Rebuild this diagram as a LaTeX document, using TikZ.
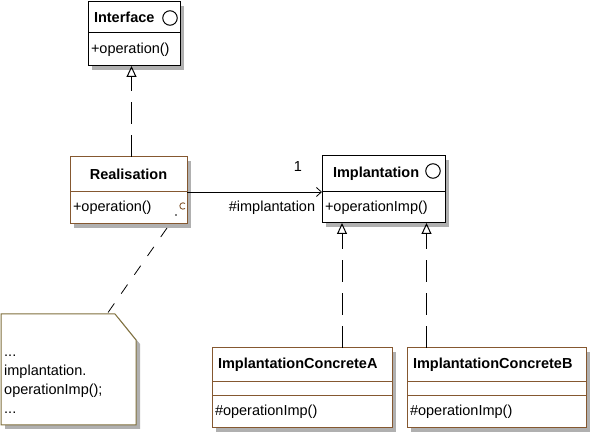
\documentclass[tikz,border=0pt]{standalone}
\usepackage{fontspec}
\setmainfont{Liberation Sans}
\usetikzlibrary{positioning,shadows,arrows.meta}

\definecolor{marrom}{RGB}{133,88,48}
\definecolor{oliva}{RGB}{128,112,60}
\definecolor{sombra}{RGB}{176,176,176}

\tikzset{
  compart/.style={draw, fill=white, line width=1pt, outer sep=0pt, inner sep=3pt,
    anchor=north west, font=\fontsize{14.5}{16}\selectfont},
  titulo/.style={compart, font=\fontsize{14.5}{16}\selectfont\bfseries},
  metodo/.style={compart, align=left},
  comsombra/.style={general shadow={fill=sombra, shadow xshift=4pt, shadow yshift=-4pt}},
  realiza/.style={draw, line width=1pt, dash pattern=on 22pt off 11pt,
    -{Triangle[open, width=10pt, length=11pt, line width=1pt]}},
  icone/.style={draw, circle, line width=1pt, minimum size=14.5pt, inner sep=0pt},
}

\begin{document}
\begin{tikzpicture}[x=1pt, y=-1pt, font=\fontsize{14.5}{16}\selectfont]
  \useasboundingbox (0,0) rectangle (590,435);

  % Interface
  \node[titulo, comsombra, minimum height=31pt, text width=80pt, inner xsep=6pt, align=left] (interface) at (88,2) {Interface};
  \node[metodo, comsombra, minimum height=33pt, text width=86pt, below=0pt of interface] (interfaceop) {+operation()};
  \node[icone] (interfaceicone) at (170,18) {};

  % Realisation
  \node[titulo, comsombra, draw=marrom, minimum height=35pt, text width=111pt, align=center] (realisation) at (70,157) {Realisation};
  \node[metodo, comsombra, draw=marrom, minimum height=32pt, text width=111pt, below=0pt of realisation] (realisationop) {+operation()};
  \draw[marrom, line width=0.9pt] (183,206) ++(50:3.2) arc (50:310:3.2);
  \fill (176,215) circle (0.8);

  % Implantation
  \node[titulo, comsombra, minimum height=36pt, text width=101pt, inner xsep=11pt, align=left] (implantation) at (322,156) {Implantation};
  \node[metodo, comsombra, minimum height=31pt, text width=117pt, below=0pt of implantation] (implantationop) {+operationImp()};
  \node[icone] (implantationicone) at (433,171) {};

  % Classes concretes
  \node[titulo, comsombra, draw=marrom, minimum height=34pt, text width=168pt, inner xsep=6pt, align=left] (concreteA) at (212,348) {ImplantationConcreteA};
  \node[metodo, comsombra, draw=marrom, minimum height=14pt, inner ysep=0pt, text width=174pt, below=0pt of concreteA] (concreteAattr) {};
  \node[metodo, comsombra, draw=marrom, minimum height=32pt, text width=174pt, below=0pt of concreteAattr] (concreteAop) {\#operationImp()};

  \node[titulo, comsombra, draw=marrom, minimum height=34pt, text width=167pt, inner xsep=6pt, align=left] (concreteB) at (407,348) {ImplantationConcreteB};
  \node[metodo, comsombra, draw=marrom, minimum height=14pt, inner ysep=0pt, text width=173pt, below=0pt of concreteB] (concreteBattr) {};
  \node[metodo, comsombra, draw=marrom, minimum height=32pt, text width=173pt, below=0pt of concreteBattr] (concreteBop) {\#operationImp()};

  % Realisations
  \draw[realiza] ([xshift=3pt]realisation.north) -- ([xshift=3pt]realisation.north |- interfaceop.south);
  \draw[realiza] ([xshift=40pt]concreteA.north) -- ([xshift=40pt]concreteA.north |- implantationop.south);
  \draw[realiza] ([xshift=-70pt]concreteB.north) -- ([xshift=-70pt]concreteB.north |- implantationop.south);

  % Association
  \draw[line width=0.8pt, -{Straight Barb[length=5pt, width=9pt, line width=0.8pt]}] (realisationop.north east) -- (implantationop.north west);
  \node (multiplicite) at (298,167) {1};
  \node (role) at (272,208) {\#implantation};

  % Note
  \draw[draw=oliva, fill=white, line width=1pt, comsombra] (1,314) -- (115,314) -- (136,340) -- (136,425) -- (1,425) -- cycle;
  \coordinate (notaponta) at (107,314);
  \node[anchor=base west, align=left, inner sep=0pt, font=\fontsize{14.5}{19}\selectfont] (notatexto) at (4,414)
    {...\\implantation.\\operationImp();\\...};
  \draw[line width=0.8pt, dash pattern=on 11pt off 12pt] ([xshift=38.5pt, yshift=-4pt]realisationop.south) -- (notaponta);
\end{tikzpicture}
\end{document}
